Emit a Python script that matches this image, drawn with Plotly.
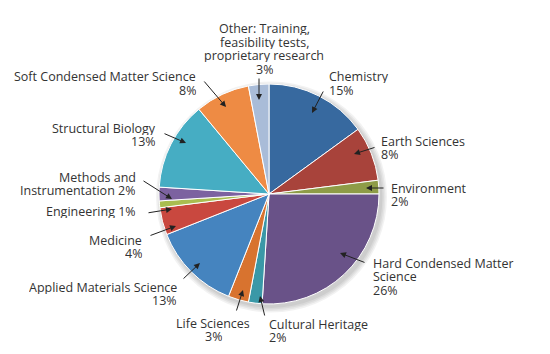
import plotly.graph_objects as go

# ---- data ----
categories = ["Chemistry", "Earth Sciences", "Environment", "Hard Condensed Matter Science",
              "Cultural Heritage", "Life Sciences", "Applied Materials Science", "Medicine",
              "Engineering", "Methods and Instrumentation", "Structural Biology",
              "Soft Condensed Matter Science",
              "Other: Training, feasibility tests, proprietary research"]
values = [15, 8, 2, 26, 2, 3, 13, 4, 1, 2, 13, 8, 3]
colors = ["#37699f", "#a8433b", "#8e9c47", "#695288", "#3a98a7", "#d8732f", "#4584bf",
          "#c9483f", "#a9bd50", "#7c62a0", "#46adc3", "#ee8b44", "#a9bcd8"]
label_lines = [
    ["Chemistry", "15%"],
    ["Earth Sciences", "8%"],
    ["Environment", "2%"],
    ["Hard Condensed Matter", "Science", "26%"],
    ["Cultural Heritage", "2%"],
    ["Life Sciences", "3%"],
    ["Applied Materials Science", "13%"],
    ["Medicine", "4%"],
    ["Engineering 1%"],
    ["Methods and", "Instrumentation 2%"],
    ["Structural Biology", "13%"],
    ["Soft Condensed Matter Science", "8%"],
    ["Other: Training,", "feasibility tests,", "proprietary research", "3%"],
]

# ---- layout (pixels) ----
W, H = 550, 354
CX, CY, R = 269, 194, 110
# (anchor x, first line y, align)
label_pos = [
    (328, 77, "left"), (380, 141, "left"), (390, 188, "left"), (372, 263, "left"),
    (268, 324, "left"), (213, 323, "center"), (178, 287, "right"), (143, 240, "right"),
    (137, 211, "right"), (137, 177, "right"), (157, 128, "right"), (197, 77, "right"),
    (264, 29, "center"),
]
# arrow (tail x, tail y, tip x, tip y)
arrows = [
    (324, 90, 312, 113), (376, 147, 354, 154), (385, 188, 366, 188), (366, 263, 340, 253),
    (265, 317, 260, 296), (236, 312, 243, 290), (182, 280, 200, 263), (149, 236, 176, 226),
    (147, 213, 172, 209), (142, 180, 172, 199), (163, 133, 186, 143), (203, 80, 226, 107),
    (259, 77, 259, 100),
]
LINE = 13.5
FONT = "Open Sans"

fig = go.Figure()
fig.add_trace(go.Pie(
    labels=categories, values=values, sort=False, direction="clockwise", rotation=0,
    marker=dict(colors=colors, line=dict(color="white", width=1)),
    textinfo="none", hoverinfo="label+percent", showlegend=False,
    domain=dict(x=[(CX - R) / W, (CX + R) / W], y=[1 - (CY + R) / H, 1 - (CY - R) / H]),
))

shapes = []
for i, op in enumerate([0.05, 0.05, 0.05, 0.05]):
    rr = R + 1 + i * 1.5
    ox, oy = 2.5, 3
    shapes.append(dict(type="circle", xref="paper", yref="paper", layer="below",
                       x0=(CX + ox - rr) / W, x1=(CX + ox + rr) / W,
                       y0=1 - (CY + oy + rr) / H, y1=1 - (CY + oy - rr) / H,
                       fillcolor="black", opacity=op, line=dict(width=0)))

annotations = []
for lines, (lx, ly, al) in zip(label_lines, label_pos):
    for k, t in enumerate(lines):
        annotations.append(dict(
            text=t, x=lx / W, y=1 - (ly + k * LINE) / H, xref="paper", yref="paper",
            xanchor=al, yanchor="middle", showarrow=False, height=13, borderpad=0,
            align=al,
            font=dict(family=FONT, size=12.5, color="#333333")))
for (tx, ty, hx, hy) in arrows:
    annotations.append(dict(
        text="", x=hx / W, y=1 - hy / H, xref="paper", yref="paper",
        ax=tx - hx, ay=ty - hy, showarrow=True, arrowhead=2, arrowsize=1.2,
        arrowwidth=1, arrowcolor="#222222"))

fig.update_layout(width=W, height=H, margin=dict(l=0, r=0, t=0, b=0),
                  paper_bgcolor="white", plot_bgcolor="white",
                  shapes=shapes, annotations=annotations)
fig.write_html("out.html")
